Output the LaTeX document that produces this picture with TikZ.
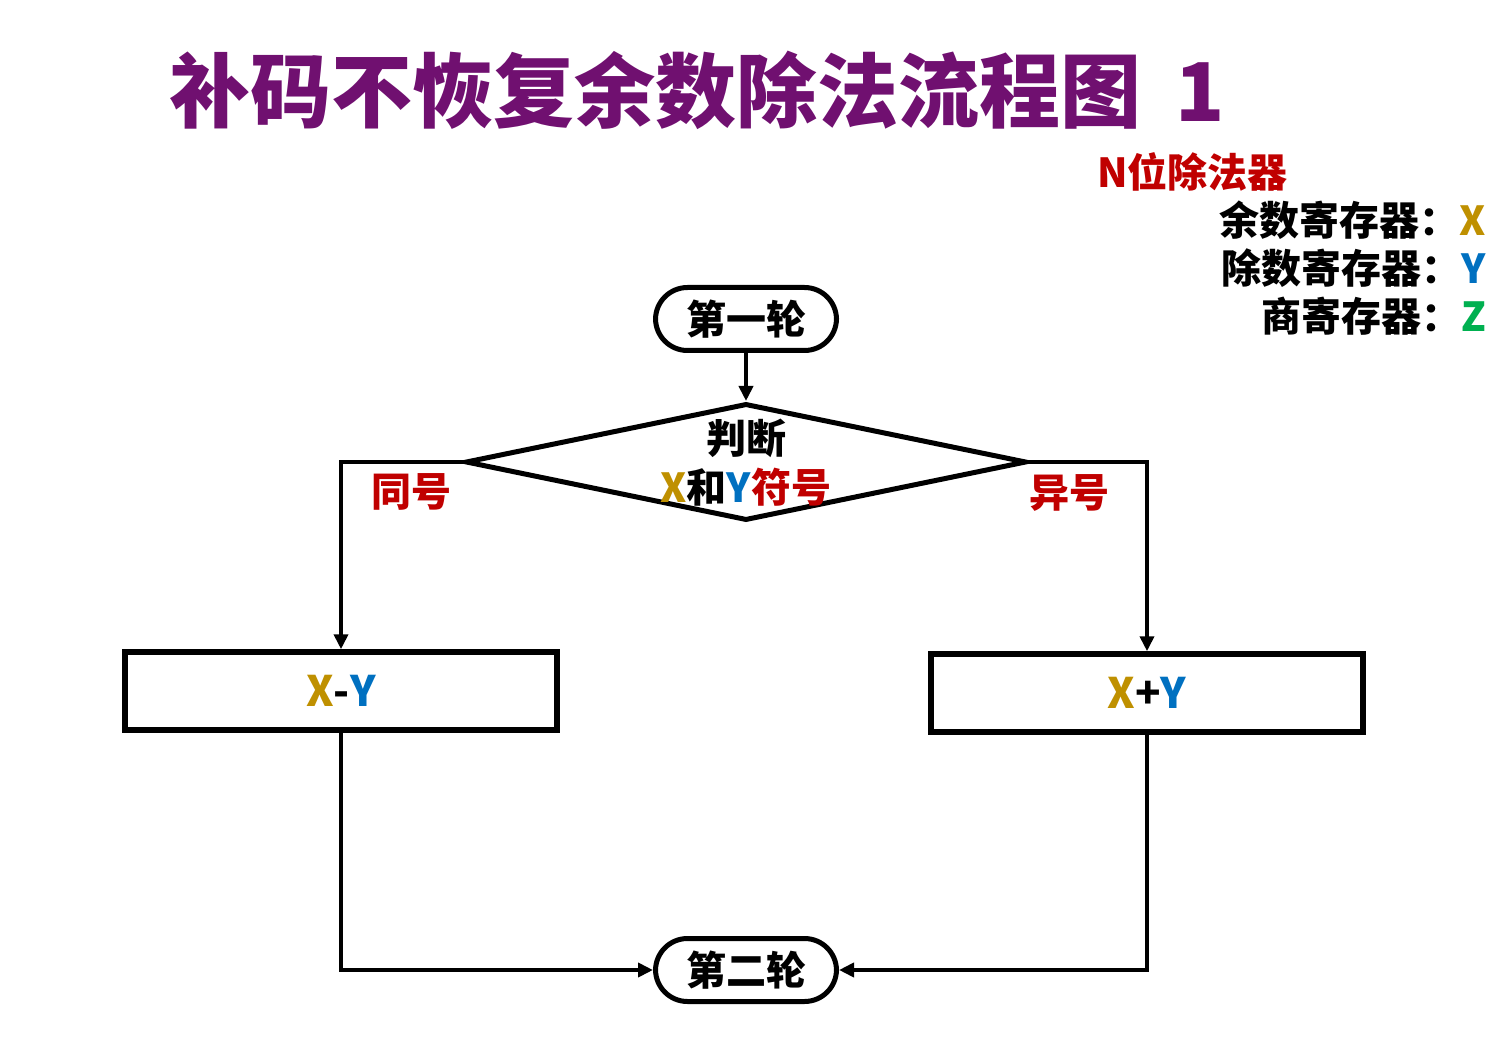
\documentclass[tikz,border=0pt]{standalone}
\usepackage{fontspec}
\setmainfont{Noto Sans CJK SC}
\usetikzlibrary{shapes.geometric,arrows.meta}
\definecolor{titlepurple}{RGB}{112,16,112}
\definecolor{alertred}{RGB}{192,0,0}
\definecolor{regx}{RGB}{191,144,0}
\definecolor{regy}{RGB}{0,112,192}
\definecolor{regz}{RGB}{0,176,80}
\begin{document}
\begin{tikzpicture}[x=1pt,y=-1pt,
  txt/.style={inner sep=0pt,font=\fontsize{#1}{#1}\selectfont\bfseries},
  terminal/.style={draw,line width=5pt,rounded corners=32pt,minimum width=181pt,minimum height=63pt,inner sep=0pt,font=\fontsize{40}{40}\selectfont\bfseries},
  opbox/.style={draw,line width=5.5pt,rectangle,minimum width=432pt,minimum height=78pt,inner sep=0pt,font=\fontsize{42}{42}\selectfont\bfseries},
  decision/.style={draw,line width=5pt,diamond,minimum width=561pt,minimum height=117pt,inner sep=0pt},
  flow/.style={line width=4pt,-{Triangle[length=15pt,width=14pt]}}]
\useasboundingbox (0,0) rectangle (1492,1059);

% title and register legend
\node[txt=81,text=titlepurple] (title) at (697,90) {补码不恢复余数除法流程图\hspace{34pt}1};
\node[txt=40,text=alertred,anchor=west] (divider) at (1097,172) {N位除法器};
\node[txt=40,anchor=east] (rx) at (1486,220) {余数寄存器：\textcolor{regx}{X}};
\node[txt=40,anchor=east] (ry) at (1486,268) {除数寄存器：\textcolor{regy}{Y}};
\node[txt=40,anchor=east] (rz) at (1486,316) {商寄存器：\textcolor{regz}{Z}};

% flowchart nodes
\node[terminal] (first) at (746,319) {第一轮};
\node[decision] (dec) at (746,462) {};
\node[txt=40] (judge) at (746,438) {判断};
\node[txt=40] (sign) at (746,487) {\textcolor{regx}{X}和\textcolor{regy}{Y}\textcolor{alertred}{符号}};
\node[opbox] (sub) at (341,691) {\textcolor{regx}{X}-\textcolor{regy}{Y}};
\node[opbox] (add) at (1147,693) {\textcolor{regx}{X}+\textcolor{regy}{Y}};
\node[terminal] (second) at (746,970) {第二轮};

% branch labels
\node[txt=40,text=alertred] (same) at (411,492) {同号};
\node[txt=40,text=alertred] (diff) at (1069,493) {异号};

% connectors
\draw[flow] (first.south) -- (dec.north);
\draw[flow] (dec.west) -| (sub.north);
\draw[flow] (dec.east) -| (add.north);
\draw[flow] (sub.south) |- (second.west);
\draw[flow] (add.south) |- (second.east);
\end{tikzpicture}
\end{document}
